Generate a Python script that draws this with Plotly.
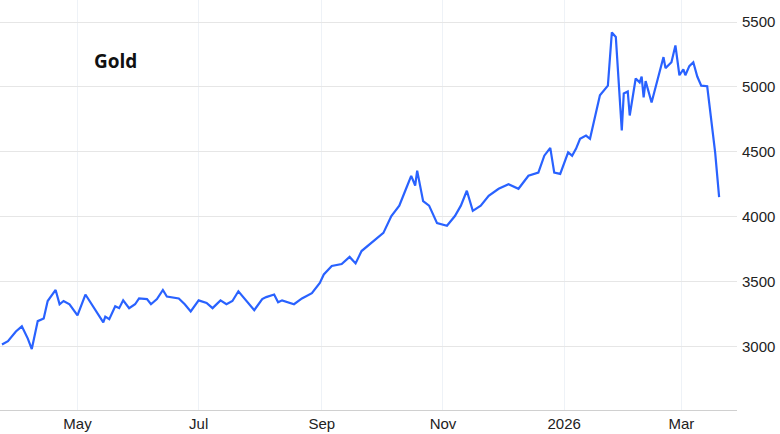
import pandas as pd
import plotly.graph_objects as go

start = "2025-03-23"
day_offsets = [1, 4, 8, 11, 14, 16, 19, 22, 24, 28, 30, 32, 35, 39, 43, 46, 49, 52, 53, 55,
               58, 60, 62, 65, 68, 70, 74, 76, 79, 82, 84, 90, 93, 96, 100, 104, 107, 111, 114, 117,
               120, 124, 128, 132, 134, 138, 140, 142, 148, 152, 157, 161, 163, 167, 172, 176, 179, 182, 188, 193,
               197, 201, 204, 207, 209, 210, 213, 216, 220, 225, 229, 232, 235, 238, 242, 246, 251, 256, 261, 266,
               271, 274, 277, 279, 282, 285, 286, 288, 290, 292, 295, 297, 300, 302, 306, 308, 310, 313, 314, 316,
               317, 319, 320, 322, 323, 324, 325, 328, 330, 334, 335, 338, 340, 342, 344, 345, 347, 349, 351, 353,
               356, 360, 362]
prices = [3015, 3040, 3115, 3155, 3060, 2980, 3195, 3215, 3350, 3435, 3325, 3350, 3325, 3240, 3400, 3325, 3250, 3185, 3230, 3210,
          3310, 3295, 3355, 3295, 3325, 3370, 3365, 3325, 3365, 3435, 3385, 3370, 3325, 3270, 3355, 3335, 3295, 3355, 3325, 3350,
          3425, 3350, 3280, 3365, 3380, 3400, 3340, 3355, 3325, 3370, 3410, 3490, 3555, 3620, 3635, 3690, 3640, 3735, 3810, 3875,
          4005, 4085, 4200, 4315, 4240, 4355, 4120, 4085, 3950, 3930, 4005, 4085, 4200, 4045, 4085, 4160, 4215, 4250, 4215, 4315,
          4340, 4470, 4530, 4340, 4330, 4455, 4495, 4470, 4525, 4600, 4625, 4600, 4795, 4935, 5010, 5420, 5385, 4665, 4950, 4965,
          4780, 4975, 5065, 5035, 5080, 4920, 5045, 4880, 4990, 5230, 5145, 5190, 5320, 5090, 5135, 5090, 5160, 5190, 5080, 5010,
          5005, 4495, 4150]
tick_dates = ["2025-05-01", "2025-07-01", "2025-09-01", "2025-11-01", "2026-01-01", "2026-03-01"]
tick_labels = ["May", "Jul", "Sep", "Nov", "2026", "Mar"]
y_ticks = [3000, 3500, 4000, 4500, 5000, 5500]

dates = pd.Timestamp(start) + pd.to_timedelta(day_offsets, unit="D")

fig = go.Figure(go.Scatter(x=dates, y=prices, mode="lines",
                           line=dict(color="#2962ff", width=2.2)))

fig.update_layout(
    width=780, height=434,
    margin=dict(l=0, r=43, t=0, b=24, autoexpand=False),
    paper_bgcolor="white", plot_bgcolor="white",
    showlegend=False,
    font=dict(family="Liberation Sans, Arial", size=15, color="#222"),
    annotations=[dict(text="<b>Gold</b>", x=0.125, y=0.887, xref="paper", yref="paper",
                      showarrow=False, font=dict(family="Open Sans", size=19, color="#111"))],
)
fig.update_xaxes(range=["2025-03-23", "2026-03-29"], tickvals=tick_dates, ticktext=tick_labels,
                 showgrid=True, gridcolor="#eef2f7", showline=True, linecolor="#d0d0d0",
                 ticks="", zeroline=False, automargin=False)
fig.update_yaxes(range=[2510, 5670], tickvals=y_ticks, side="right", showgrid=True,
                 gridcolor="#e6e6e6", zeroline=False, ticks="", ticklabelstandoff=4,
                 automargin=False)

# drop the page's default body margin so the chart sits at the window's corner
fig.write_html("out.html", config={"displayModeBar": False},
               post_script="document.body.style.margin='0';")
